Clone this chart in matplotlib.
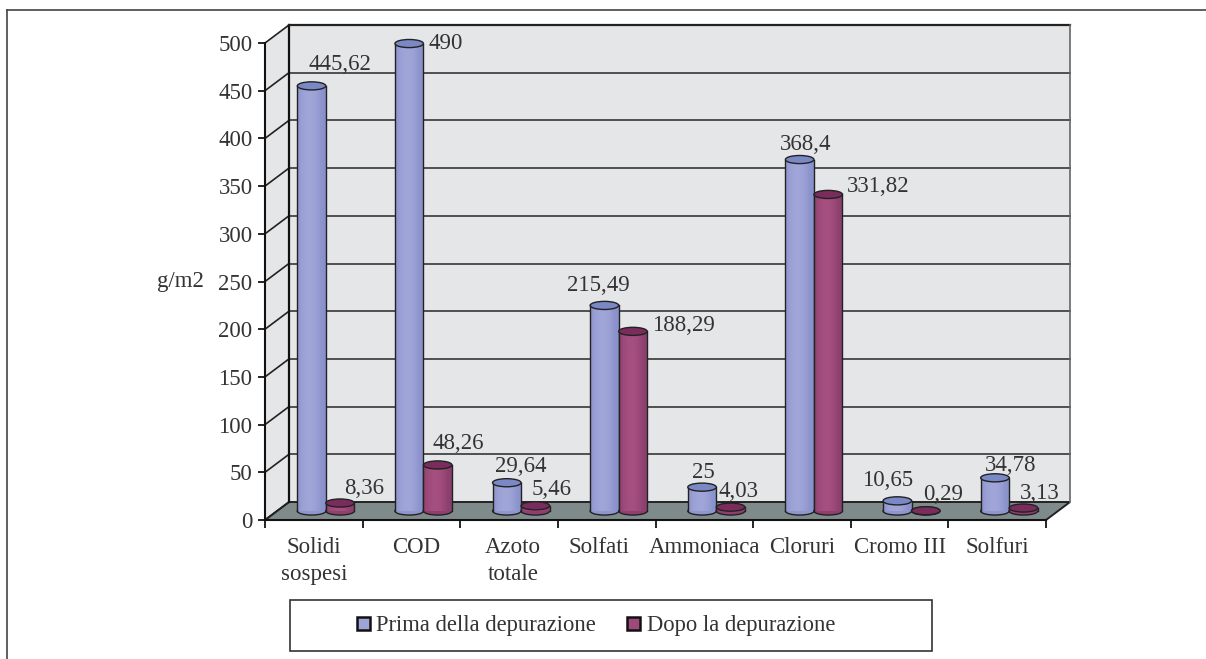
import numpy as np
import matplotlib
matplotlib.use("Agg")
import matplotlib.pyplot as plt
from matplotlib.lines import Line2D
from matplotlib.patches import Ellipse, Patch, Polygon, Rectangle
from matplotlib.transforms import ScaledTranslation

categories = ["Solidi\nsospesi", "COD", "Azoto\ntotale", "Solfati", "Ammoniaca", "Cloruri", "Cromo III", "Solfuri"]
prima = [445.62, 490, 29.64, 215.49, 25, 368.4, 10.65, 34.78]
dopo = [8.36, 48.26, 5.46, 188.29, 4.03, 331.82, 0.29, 3.13]
prima_labels = ["445,62", "490", "29,64", "215,49", "25", "368,4", "10,65", "34,78"]
dopo_labels = ["8,36", "48,26", "5,46", "188,29", "4,03", "331,82", "0,29", "3,13"]
y_ticks = list(range(0, 501, 50))

# label offsets from the top of each bar, in pixels
prima_off = [(28, 21), (37, 0), (14, 16), (-6, 20), (1, 15), (6, 15), (-10, 20), (16, 12)]
dopo_off = [(24, 15), (21, 21), (16, 16), (51, 6), (8, 16), (50, 8), (17, 16), (16, 15)]
# category labels are not quite centred in the original
cat_nudge = [0, 5, 4, -8, 0, 0, 0, 0]

plt.rcParams['font.family'] = ['Liberation Serif', 'DejaVu Serif']
plt.rcParams['text.color'] = '#333333'

W, H = 1206, 659
fig = plt.figure(figsize=(W / 100, H / 100), dpi=100)
ax = fig.add_axes([265 / W, 1 - 520 / H, 781 / W, 477 / H])
ax.set_xlim(0, 8)
ax.set_ylim(0, 500)
ax.patch.set_visible(False)


def shifted(dx, dy):
    # move something back into the 3d depth, dx/dy in pixels
    return ax.transData + ScaledTranslation(dx / 100, dy / 100, fig.dpi_scale_trans)


DX, DY = 24, 18
back = shifted(DX, DY)
wall = '#e5e6e8'
ax.add_patch(Rectangle((0, 0), 8, 500, transform=back, fc=wall, ec='none', zorder=0, clip_on=False))
# left wall and floor
corner = [(0, 0), (0, 500)]
pts = [ax.transData.transform(p) for p in corner]
back_pts = [back.transform(p) for p in corner]
ax.add_patch(Polygon([pts[0], pts[1], back_pts[1], back_pts[0]], transform=None, fc=wall, ec='none', zorder=0, clip_on=False))
fl = [ax.transData.transform((0, 0)), ax.transData.transform((8, 0)), back.transform((8, 0)), back.transform((0, 0))]
ax.add_patch(Polygon(fl, transform=None, fc='#7f8b8b', ec='#222222', lw=1.4, zorder=1, clip_on=False))

for t in y_ticks[1:]:
    ax.plot([0, 8], [t, t], transform=back, color='#444444', lw=1.3, zorder=1, clip_on=False)
for t in y_ticks:
    p0 = ax.transData.transform((0, t))
    p1 = back.transform((0, t))
    ax.add_line(Line2D([p0[0], p1[0]], [p0[1], p1[1]], transform=None, color='#222222', lw=1.2, zorder=2, clip_on=False))
ax.plot([0, 0], [0, 500], transform=back, color='#111111', lw=1.6, zorder=2, clip_on=False)
ax.plot([0, 8], [500, 500], transform=back, color='#222222', lw=1.6, zorder=2, clip_on=False)
ax.plot([8, 8], [0, 500], transform=back, color='#666666', lw=1.2, zorder=2, clip_on=False)

bar_tr = shifted(DX / 2, DY / 2)
bar_w = 0.292
cap_h = 8.5


def cylinder(left, value, side, light, dark, top, z):
    grad = np.array([.35, .7, .9, 1, 1, .85, .6, .25, .1])[None, :, None]
    img = np.array(dark)[None, None, :] * (1 - grad) + np.array(light)[None, None, :] * grad
    base = Ellipse((left + bar_w / 2, 0), bar_w, cap_h, transform=bar_tr, fc=side, ec='#222222', lw=1, zorder=z, clip_on=False)
    ax.add_patch(base)
    im = ax.imshow(img, extent=(left, left + bar_w, 0, value), transform=bar_tr, aspect='auto',
                   interpolation='bilinear', zorder=z, clip_on=False)
    ax.plot([left, left], [0, value], transform=bar_tr, color='#222222', lw=1, zorder=z, clip_on=False)
    ax.plot([left + bar_w] * 2, [0, value], transform=bar_tr, color='#222222', lw=1, zorder=z, clip_on=False)
    ax.add_patch(Ellipse((left + bar_w / 2, value), bar_w, cap_h, transform=bar_tr, fc=top, ec='#222222', lw=1, zorder=z, clip_on=False))
    return im


blue_light, blue_dark = (0.63, 0.65, 0.85), (0.53, 0.56, 0.79)
red_light, red_dark = (0.65, 0.31, 0.50), (0.53, 0.24, 0.42)
for i in range(len(categories)):
    c = i + 0.5
    cylinder(c - bar_w, prima[i], '#8f96cc', blue_light, blue_dark, '#7a88c6', 3 + i * 2)
    cylinder(c, dopo[i], '#8e3f70', red_light, red_dark, '#7a2c5c', 4 + i * 2)
    ax.annotate(prima_labels[i], (c - bar_w / 2, prima[i]), xycoords=bar_tr, xytext=(prima_off[i][0] * .72, prima_off[i][1] * .72),
                textcoords='offset points', ha='center', va='center', fontsize=16.5, zorder=30)
    ax.annotate(dopo_labels[i], (c + bar_w / 2, dopo[i]), xycoords=bar_tr, xytext=(dopo_off[i][0] * .72, dopo_off[i][1] * .72),
                textcoords='offset points', ha='center', va='center', fontsize=16.5, zorder=30)

ax.set_xlim(0, 8)
ax.set_ylim(0, 500)
for s in ['top', 'right']:
    ax.spines[s].set_visible(False)
for s in ['left', 'bottom']:
    ax.spines[s].set_linewidth(1.5)
    ax.spines[s].set_color('#111111')
    ax.spines[s].set_zorder(2)

ax.set_yticks(y_ticks)
ax.tick_params(axis='y', length=5, width=1.2, labelsize=16.5, pad=4, labelcolor='#333333')
ax.set_xticks(np.arange(0, 9))
ax.set_xticklabels([])
ax.tick_params(axis='x', length=6, width=1.2)
ax.set_xticks(np.arange(8) + 0.5, minor=True)
ax.set_xticklabels(categories, minor=True, fontsize=16.5, color='#333333', linespacing=1.4)
ax.tick_params(axis='x', which='minor', length=0, pad=12)
for lab, n in zip(ax.get_xticklabels(minor=True), cat_nudge):
    lab.set_transform(lab.get_transform() + ScaledTranslation(n / 100, 0, fig.dpi_scale_trans))
ax.set_ylabel("g/m2", rotation=0, fontsize=16.5, color='#333333', labelpad=0)
ax.yaxis.set_label_coords((180 - 265) / 781, (520 - 282) / 477)
ax.yaxis.label.set_va('center')
ax.yaxis.label.set_ha('center')

# outer frame of the page and legend box
fig.add_artist(Line2D([7 / W, 1], [1 - 9.5 / H] * 2, color='#444444', lw=1.2))
fig.add_artist(Line2D([7 / W, 7 / W], [0, 1 - 9.5 / H], color='#444444', lw=1.2))
fig.add_artist(Rectangle((290 / W, 1 - 651 / H), 642 / W, 51 / H, transform=fig.transFigure, fc='white', ec='#333333', lw=1.2))

handles = [Patch(fc='#9da4d6', ec='#111111', lw=1.8, label="Prima della depurazione"),
           Patch(fc='#9c4a7c', ec='#111111', lw=1.8, label="Dopo la depurazione")]
fig.legend(handles=handles, ncol=2, loc='center', bbox_to_anchor=(596 / W, 1 - 626 / H), frameon=False,
           fontsize=16.3, handlelength=0.55, handleheight=0.55, handletextpad=0.3, columnspacing=1.38, labelcolor='#333333')

fig.savefig("out.png", dpi=100)
